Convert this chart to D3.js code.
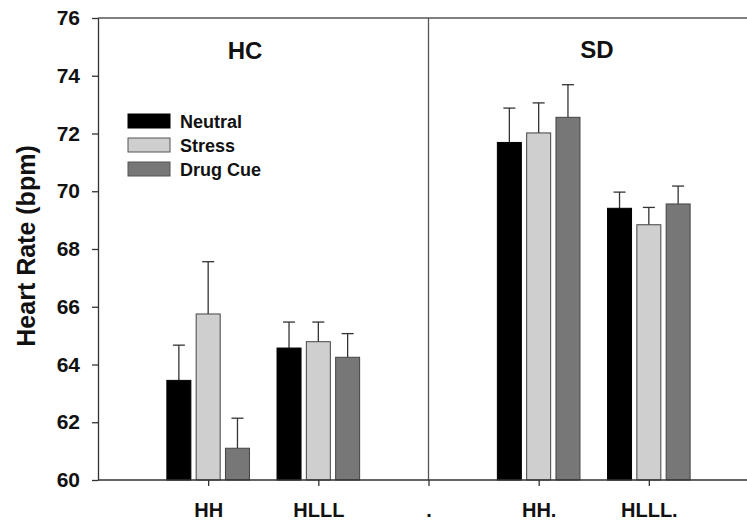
<html>
<head>
    <title>Heart Rate</title>
    <script src="https://d3js.org/d3.v7.min.js"></script>
    <style>
        body { margin: 0; background: #fff; }
        text { font-family: Arial, "Liberation Sans", sans-serif; font-weight: bold; }
    </style>
</head>
<body>
    <svg width="747" height="523"></svg>
    <script>
        // tick positions along the x axis (first and last are empty)
        const xTicks = ['', 'HH', 'HLLL', '.', 'HH.', 'HLLL.', ' '];
        const groups = ['HH', 'HLLL', 'HH.', 'HLLL.'];
        const conditions = ['Neutral', 'Stress', 'Drug Cue'];
        const colors = ['#000000', '#cfcfcf', '#777777'];

        // mean heart rate per group, one array per condition
        const neutral = [63.45, 64.57, 71.69, 69.41];
        const stress = [65.75, 64.79, 72.02, 68.84];
        const drugCue = [61.10, 64.25, 72.56, 69.56];
        // top of error bar
        const neutralErr = [64.67, 65.47, 72.88, 69.97];
        const stressErr = [67.56, 65.47, 73.06, 69.44];
        const drugCueErr = [62.14, 65.07, 73.69, 70.18];

        const yTicks = [60, 62, 64, 66, 68, 70, 72, 74, 76];

        const svg = d3.select('svg');
        const W = 747, plotLeft = 98, plotTop = 18, plotBottom = 480;

        const x = d3.scalePoint().domain(xTicks).range([plotLeft, 759]);
        const y = d3.scaleLinear().domain([60, 76]).range([plotBottom, plotTop]);
        const barW = 24, barStep = 29.3;

        const means = [neutral, stress, drugCue];
        const errs = [neutralErr, stressErr, drugCueErr];

        // top frame line + divider
        svg.append('line').attr('x1', plotLeft).attr('x2', W).attr('y1', plotTop).attr('y2', plotTop)
            .attr('stroke', '#555').attr('stroke-width', 1.3);
        svg.append('line').attr('x1', x('.')).attr('x2', x('.')).attr('y1', plotTop).attr('y2', plotBottom)
            .attr('stroke', '#555').attr('stroke-width', 1.3);

        // bars
        conditions.forEach((c, ci) => {
            const g = svg.append('g');
            groups.forEach((grp, gi) => {
                const cx = x(grp) + (ci - 1) * barStep;
                // error bar
                g.append('line').attr('x1', cx).attr('x2', cx)
                    .attr('y1', y(means[ci][gi])).attr('y2', y(errs[ci][gi]))
                    .attr('stroke', '#333').attr('stroke-width', 1.3);
                g.append('line').attr('x1', cx - 6).attr('x2', cx + 6)
                    .attr('y1', y(errs[ci][gi])).attr('y2', y(errs[ci][gi]))
                    .attr('stroke', '#333').attr('stroke-width', 1.3);
                g.append('rect')
                    .attr('x', cx - barW / 2)
                    .attr('y', y(means[ci][gi]))
                    .attr('width', barW)
                    .attr('height', y(60) - y(means[ci][gi]))
                    .attr('fill', colors[ci])
                    .attr('stroke', ci === 0 ? '#000' : '#444')
                    .attr('stroke-width', 1);
            });
        });

        // y axis
        const yAxis = svg.append('g').attr('transform', `translate(${plotLeft},0)`)
            .call(d3.axisLeft(y).tickValues(yTicks).tickSize(6).tickSizeOuter(0).tickPadding(12));
        yAxis.select('.domain').attr('stroke', '#333').attr('stroke-width', 1.3);
        yAxis.selectAll('.tick line').attr('stroke', '#333').attr('stroke-width', 1.3);
        yAxis.selectAll('text').attr('font-size', 21).attr('fill', '#111')
            .style('font-family', 'Arial, "Liberation Sans", sans-serif').style('font-weight', 'bold');

        // x axis
        const xAxis = svg.append('g').attr('transform', `translate(0,${plotBottom})`)
            .call(d3.axisBottom(x).tickValues(xTicks.slice(1, 6)).tickSize(6).tickSizeOuter(0).tickPadding(17));
        xAxis.select('.domain').attr('d', `M${plotLeft},0H${W}`).attr('stroke', '#333').attr('stroke-width', 1.3);
        xAxis.selectAll('.tick line').attr('stroke', '#333').attr('stroke-width', 1.3);
        xAxis.selectAll('text').attr('font-size', 20).attr('fill', '#111')
            .style('font-family', 'Arial, "Liberation Sans", sans-serif').style('font-weight', 'bold');

        // y title
        svg.append('text')
            .attr('transform', `translate(35,246) rotate(-90)`)
            .attr('text-anchor', 'middle')
            .attr('font-size', 25)
            .attr('fill', '#111')
            .text('Heart Rate (bpm)');

        // panel labels
        svg.append('text').attr('x', 245).attr('y', 59)
            .attr('text-anchor', 'middle').attr('font-size', 24).attr('fill', '#111').text('HC');
        svg.append('text').attr('x', 597).attr('y', 58)
            .attr('text-anchor', 'middle').attr('font-size', 24).attr('fill', '#111').text('SD');

        // legend
        const legend = svg.append('g').attr('transform', 'translate(128,114)');
        conditions.forEach((c, i) => {
            legend.append('rect').attr('x', 0).attr('y', i * 24).attr('width', 42).attr('height', 14)
                .attr('fill', colors[i]).attr('stroke', i === 0 ? '#000' : '#555');
            legend.append('text').attr('x', 52).attr('y', i * 24 + 14)
                .attr('font-size', 18).attr('fill', '#111').text(c);
        });
    </script>
</body>
</html>
